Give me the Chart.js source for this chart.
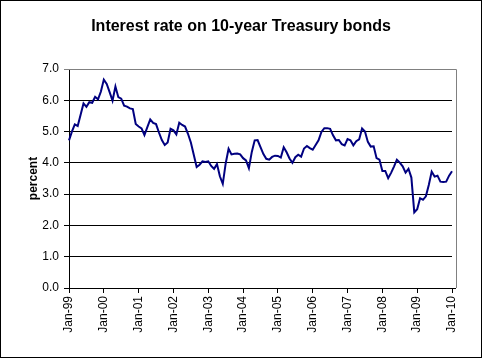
<!DOCTYPE html>
<html>
<head>
<meta charset="utf-8">
<script src="https://cdn.jsdelivr.net/npm/chart.js@4.4.1/dist/chart.umd.min.js"></script>
<style>
  html, body { margin: 0; padding: 0; background: #fff; }
  #wrap { width: 482px; height: 358px; position: relative; }
</style>
</head>
<body>
<div id="wrap"><canvas id="chart" width="482" height="358"></canvas></div>
<script>
// monthly rates, Jan-99 .. Jan-10
const years = ['99', '00', '01', '02', '03', '04', '05', '06', '07', '08', '09', '10'];
const months = ['Jan', 'Feb', 'Mar', 'Apr', 'May', 'Jun', 'Jul', 'Aug', 'Sep', 'Oct', 'Nov', 'Dec'];

const rates = [
    4.72, 5.00, 5.23, 5.18, 5.54, 5.90, 5.79, 5.94, 5.92, 6.11, 6.03, 6.28,
    6.66, 6.52, 6.26, 5.99, 6.44, 6.10, 6.05, 5.83, 5.80, 5.74, 5.72, 5.24,
    5.16, 5.10, 4.89, 5.14, 5.39, 5.28, 5.24, 4.97, 4.73, 4.57, 4.65, 5.09,
    5.04, 4.91, 5.28, 5.21, 5.16, 4.93, 4.65, 4.26, 3.87, 3.94, 4.05, 4.03,
    4.05, 3.90, 3.81, 3.96, 3.57, 3.33, 3.98, 4.45, 4.27, 4.29, 4.30, 4.27,
    4.15, 4.08, 3.83, 4.35, 4.72, 4.73, 4.50, 4.28, 4.13, 4.10, 4.19, 4.23,
    4.22, 4.17, 4.50, 4.34, 4.14, 4.00, 4.18, 4.26, 4.20, 4.46, 4.54, 4.47,
    4.42, 4.57, 4.72, 4.99, 5.11, 5.11, 5.09, 4.88, 4.72, 4.73, 4.60, 4.56,
    4.76, 4.72, 4.56, 4.69, 4.75, 5.10, 5.00, 4.67, 4.52, 4.53, 4.15, 4.10,
    3.74, 3.74, 3.51, 3.68, 3.88, 4.10, 4.01, 3.89, 3.69, 3.81, 3.53, 2.42,
    2.52, 2.87, 2.82, 2.93, 3.29, 3.72, 3.56, 3.59, 3.40, 3.39, 3.40, 3.59,
    3.73
];

const labels = [];
years.forEach(y => months.forEach(m => labels.push(m + '-' + y)));
labels.length = rates.length;

// excel-ish frame: gray plot border, black outer border
const frame = {
    id: 'frame',
    beforeDatasetsDraw(chart) {
        const { ctx, chartArea: a } = chart;
        ctx.save();
        ctx.lineWidth = 1;
        ctx.strokeStyle = '#808080';
        ctx.beginPath();
        ctx.moveTo(a.left, a.top + 0.5);
        ctx.lineTo(a.right + 4.5, a.top + 0.5);
        ctx.lineTo(a.right + 4.5, a.bottom);
        ctx.stroke();
        ctx.strokeStyle = '#000';
        ctx.beginPath();
        ctx.moveTo(a.right, a.bottom + 0.5);
        ctx.lineTo(a.right + 4, a.bottom + 0.5);
        ctx.stroke();
        ctx.restore();
    },
    afterDraw(chart) {
        const ctx = chart.ctx;
        ctx.save();
        ctx.strokeStyle = '#000';
        ctx.lineWidth = 1;
        ctx.strokeRect(0.5, 0.5, chart.width - 1, chart.height - 1);
        ctx.restore();
    }
};

const ctx = document.getElementById('chart').getContext('2d');
const myChart = new Chart(ctx, {
    type: 'line',
    data: {
        labels: labels,
        datasets: [
            {
                label: '10-year Treasury',
                data: rates,
                borderColor: '#000080',
                borderWidth: 2,
                pointRadius: 0,
                tension: 0,
            },
        ],
    },
    options: {
        responsive: false,
        animation: false,
        layout: { padding: 0 },
        plugins: {
            legend: { display: false },
            tooltip: { enabled: false },
            title: {
                display: true,
                text: 'Interest rate on 10-year Treasury bonds',
                color: '#000',
                font: { family: 'Liberation Sans, Arial', size: 16, weight: 'bold' },
                padding: { top: 17, bottom: 32.8 },
            },
        },
        scales: {
            x: {
                offset: false,
                border: { color: '#000', width: 1 },
                grid: {
                    drawOnChartArea: false,
                    tickLength: 5,
                    color: c => (c.index % 12 === 0 ? '#000' : 'rgba(0,0,0,0)'),
                },
                ticks: {
                    autoSkip: false,
                    maxRotation: 90,
                    minRotation: 90,
                    padding: 3,
                    color: '#000',
                    font: { family: 'Liberation Sans, Arial', size: 12 },
                    callback: (v, i) => (i % 12 === 0 ? labels[i] : ''),
                },
                afterFit: s => { s.height = 70; },
            },
            y: {
                min: 0,
                max: 7,
                border: { color: '#000', width: 1 },
                grid: {
                    color: c => (c.tick.value === 7 ? '#808080' : '#000'),
                    tickLength: 5,
                },
                ticks: {
                    stepSize: 1,
                    padding: 5,
                    color: '#000',
                    font: { family: 'Liberation Sans, Arial', size: 12 },
                    callback: v => v.toFixed(1),
                },
                title: {
                    display: true,
                    text: 'percent',
                    color: '#000',
                    font: { family: 'Liberation Sans, Arial', size: 12, weight: 'bold' },
                    padding: { top: 26, bottom: 0 },
                },
                afterFit: s => { s.width = 69; },
            },
            // empty right-hand spacer so the plot ends where the reference does
            yRight: {
                position: 'right',
                display: true,
                grid: { display: false },
                border: { display: false },
                ticks: { display: false },
                afterFit: s => { s.width = 30; },
            },
        },
    },
    plugins: [frame],
});
</script>
</body>
</html>
